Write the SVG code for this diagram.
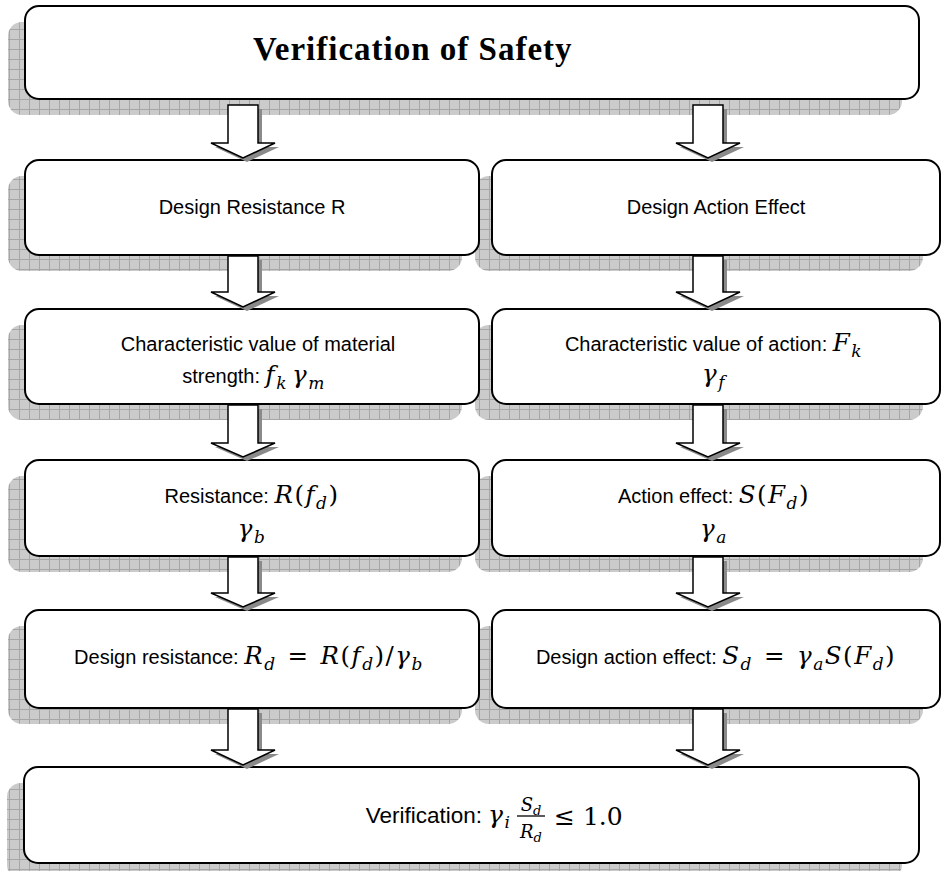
<svg xmlns="http://www.w3.org/2000/svg" width="942" height="871" viewBox="0 0 942 871">
<style>
.box{fill:#fff;stroke:#000;stroke-width:2}
.sh{fill:url(#grid)}
.arr{fill:#fff;stroke:#000;stroke-width:1.5;stroke-linejoin:miter}
.ash{fill:#8a8a8a}
.t{font-family:"Liberation Sans",Arial,sans-serif;font-size:20px;fill:#000;text-anchor:middle}
.m{font-family:"DejaVu Serif",serif;font-style:italic;font-size:24.5px;letter-spacing:1.5px}
.u{font-family:"DejaVu Serif",serif;font-style:normal;font-size:24.5px;letter-spacing:1.5px}
.s{font-size:17px}
.title{font-family:"Liberation Serif","Times New Roman",serif;font-weight:bold;font-size:33px;letter-spacing:1px;fill:#000}
</style>
<defs>
<pattern id="grid" patternUnits="userSpaceOnUse" width="10" height="10">
<rect width="10" height="10" fill="#cbcbcb"/>
<path d="M9.5 0V10M0 9.5H10" stroke="#a6a6a6" stroke-width="1"/>
</pattern>
</defs>

<g id="shadows">
<rect class="sh" x="8" y="22" width="894" height="93" rx="14"/>
<rect class="sh" x="8" y="176" width="454" height="95" rx="14"/>
<rect class="sh" x="475" y="176" width="448" height="95" rx="14"/>
<rect class="sh" x="8" y="325" width="454" height="95" rx="14"/>
<rect class="sh" x="475" y="325" width="448" height="95" rx="14"/>
<rect class="sh" x="8" y="476" width="454" height="96" rx="14"/>
<rect class="sh" x="475" y="476" width="448" height="96" rx="14"/>
<rect class="sh" x="8" y="626" width="454" height="98" rx="14"/>
<rect class="sh" x="475" y="626" width="448" height="98" rx="14"/>
<rect class="sh" x="7" y="783" width="895" height="96" rx="14"/>
</g>

<g id="n1">
<rect class="box" x="25" y="6" width="894" height="93" rx="14"/>
<text class="title" x="253" y="60">Verification of Safety</text>
</g>
<g id="n2">
<rect class="box" x="25" y="160" width="454" height="95" rx="14"/>
<text class="t" x="252" y="214">Design Resistance R</text>
</g>
<g id="n3">
<rect class="box" x="492" y="160" width="448" height="95" rx="14"/>
<text class="t" x="716" y="214">Design Action Effect</text>
</g>
<g id="n4">
<rect class="box" x="25" y="309" width="454" height="95" rx="14"/>
<text class="t" x="258" y="351">Characteristic value of material</text>
<text class="t" x="254" y="383">strength: <tspan class="m">f</tspan><tspan class="m s" dy="6">k</tspan><tspan class="m" dy="-6" dx="4">γ</tspan><tspan class="m s" dy="6">m</tspan></text>
</g>
<g id="n5">
<rect class="box" x="492" y="309" width="448" height="95" rx="14"/>
<text class="t" x="714" y="351">Characteristic value of action: <tspan class="m">F</tspan><tspan class="m s" dy="6">k</tspan></text>
<text class="t" x="714" y="382"><tspan class="m">γ</tspan><tspan class="m s" dy="6">f</tspan></text>
</g>
<g id="n6">
<rect class="box" x="25" y="460" width="454" height="96" rx="14"/>
<text class="t" x="252" y="503">Resistance: <tspan class="m">R</tspan><tspan class="u">(</tspan><tspan class="m">f</tspan><tspan class="m s" dy="6">d</tspan><tspan class="u" dy="-6">)</tspan></text>
<text class="t" x="252" y="537"><tspan class="m">γ</tspan><tspan class="m s" dy="6">b</tspan></text>
</g>
<g id="n7">
<rect class="box" x="492" y="460" width="448" height="96" rx="14"/>
<text class="t" x="714" y="503">Action effect: <tspan class="m">S</tspan><tspan class="u">(</tspan><tspan class="m">F</tspan><tspan class="m s" dy="6">d</tspan><tspan class="u" dy="-6">)</tspan></text>
<text class="t" x="714" y="537"><tspan class="m">γ</tspan><tspan class="m s" dy="6">a</tspan></text>
</g>
<g id="n8">
<rect class="box" x="25" y="610" width="454" height="98" rx="14"/>
<text class="t" x="249" y="664">Design resistance: <tspan class="m">R</tspan><tspan class="m s" dy="6">d</tspan><tspan class="u" dy="-6" dx="11">=</tspan><tspan class="m" dx="11">R</tspan><tspan class="u">(</tspan><tspan class="m">f</tspan><tspan class="m s" dy="6">d</tspan><tspan class="u" dy="-6">)/</tspan><tspan class="m">γ</tspan><tspan class="m s" dy="6">b</tspan></text>
</g>
<g id="n9">
<rect class="box" x="492" y="610" width="448" height="98" rx="14"/>
<text class="t" x="716" y="664">Design action effect: <tspan class="m">S</tspan><tspan class="m s" dy="6">d</tspan><tspan class="u" dy="-6" dx="11">=</tspan><tspan class="m" dx="11">γ</tspan><tspan class="m s" dy="6">a</tspan><tspan class="m" dy="-6">S</tspan><tspan class="u">(</tspan><tspan class="m">F</tspan><tspan class="m s" dy="6">d</tspan><tspan class="u" dy="-6">)</tspan></text>
</g>
<g id="n10">
<rect class="box" x="24" y="767" width="895" height="96" rx="14"/>
<text class="t" x="482" y="823" style="text-anchor:end;font-size:22.5px">Verification:</text>
<text class="m" x="488" y="823" style="font-size:25px">γ<tspan class="s" dy="5">i</tspan></text>
<text class="m" x="531" y="811" style="font-size:18px;text-anchor:middle;letter-spacing:0">S<tspan style="font-size:13px" dy="4">d</tspan></text>
<line x1="517" y1="816" x2="545" y2="816" stroke="#000" stroke-width="1.3"/>
<text class="m" x="531" y="838" style="font-size:18px;text-anchor:middle;letter-spacing:0">R<tspan style="font-size:13px" dy="4">d</tspan></text>
<text class="u" x="554" y="825" style="font-size:25px;letter-spacing:0">≤ 1.0</text>
</g>

<g id="connectors">
<g transform="translate(4,4)">
<polygon class="ash" points="228,105 258,105 258,143 275,143 243,158 211,143 228,143"/>
<polygon class="ash" points="693,105 723,105 723,143 740,143 708,158 676,143 693,143"/>
<polygon class="ash" points="228,256 258,256 258,292 275,292 243,307 211,292 228,292"/>
<polygon class="ash" points="693,256 723,256 723,292 740,292 708,307 676,292 693,292"/>
<polygon class="ash" points="228,405 258,405 258,443 275,443 243,457 211,443 228,443"/>
<polygon class="ash" points="693,405 723,405 723,443 740,443 708,457 676,443 693,443"/>
<polygon class="ash" points="228,557 258,557 258,593 275,593 243,607 211,593 228,593"/>
<polygon class="ash" points="693,557 723,557 723,593 740,593 708,607 676,593 693,593"/>
<polygon class="ash" points="228,709 258,709 258,750 275,750 243,765 211,750 228,750"/>
<polygon class="ash" points="693,709 723,709 723,750 740,750 708,765 676,750 693,750"/>
</g>
<polygon class="arr" points="228,105 258,105 258,143 275,143 243,158 211,143 228,143"/>
<polygon class="arr" points="693,105 723,105 723,143 740,143 708,158 676,143 693,143"/>
<polygon class="arr" points="228,256 258,256 258,292 275,292 243,307 211,292 228,292"/>
<polygon class="arr" points="693,256 723,256 723,292 740,292 708,307 676,292 693,292"/>
<polygon class="arr" points="228,405 258,405 258,443 275,443 243,457 211,443 228,443"/>
<polygon class="arr" points="693,405 723,405 723,443 740,443 708,457 676,443 693,443"/>
<polygon class="arr" points="228,557 258,557 258,593 275,593 243,607 211,593 228,593"/>
<polygon class="arr" points="693,557 723,557 723,593 740,593 708,607 676,593 693,593"/>
<polygon class="arr" points="228,709 258,709 258,750 275,750 243,765 211,750 228,750"/>
<polygon class="arr" points="693,709 723,709 723,750 740,750 708,765 676,750 693,750"/>
</g>
</svg>
